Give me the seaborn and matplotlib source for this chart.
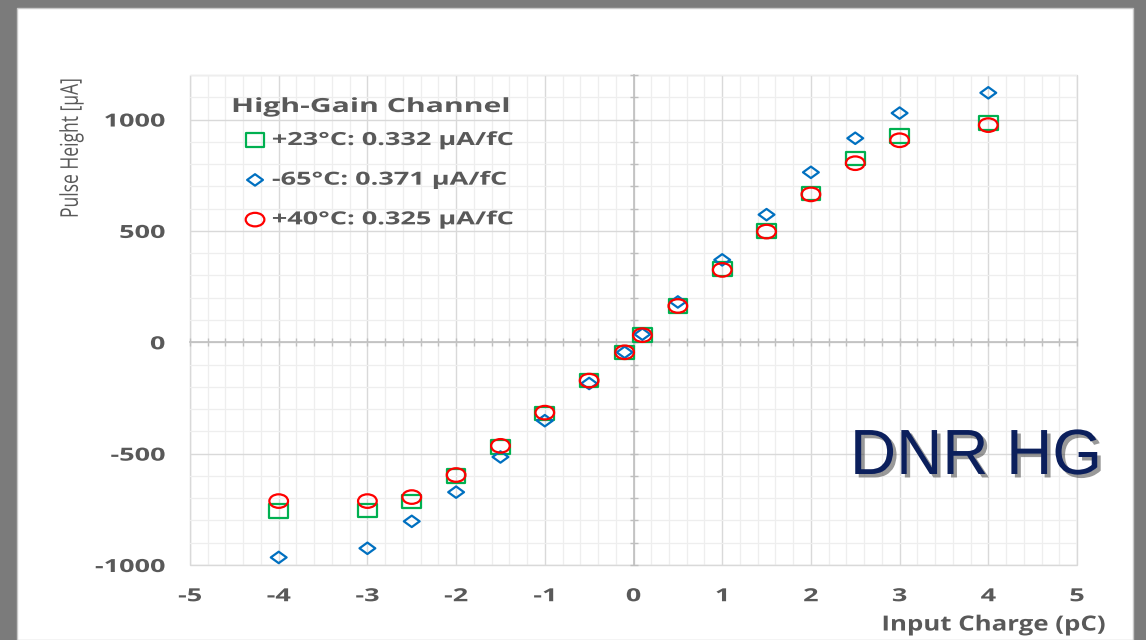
import numpy as np
import pandas as pd
import matplotlib
matplotlib.use('Agg')
import matplotlib.pyplot as plt
import matplotlib.patheffects as pe
from matplotlib.markers import MarkerStyle
from matplotlib.transforms import Affine2D
from matplotlib.patches import Rectangle
from matplotlib.ticker import MultipleLocator, FixedLocator
import seaborn as sns

# ---- data ----
charge = [-4, -3, -2.5, -2, -1.5, -1, -0.5, -0.1, 0.1, 0.5, 1, 1.5, 2, 2.5, 3, 4]
ph_23 = [-758, -755, -715, -600, -470, -320, -172, -45, 32, 163, 330, 500, 668, 826, 925, 984]
ph_m65 = [-966, -925, -804, -673, -515, -352, -185, -45, 36, 181, 370, 573, 763, 916, 1029, 1120]
ph_40 = [-713, -713, -695, -596, -465, -316, -172, -45, 32, 163, 325, 497, 664, 804, 907, 975]

labels = ['+23°C: 0.332 µA/fC', '-65°C: 0.371 µA/fC', '+40°C: 0.325 µA/fC']
colors = ['#00B050', '#0070C0', '#FF0000']
x_ticks = [-5, -4, -3, -2, -1, 0, 1, 2, 3, 4, 5]
y_ticks = [-1000, -500, 0, 500, 1000]

sns.set_theme(style='white')
plt.rcParams['font.family'] = ['Open Sans', 'DejaVu Sans']
plt.rcParams['axes.unicode_minus'] = False
TXT = '#595959'


class HStretch(pe.AbstractPathEffect):
    """widen text horizontally (the slide picture is stretched sideways)"""
    def __init__(self, sx, anchor='center'):
        super().__init__()
        self.sx = sx
        self.anchor = anchor

    def draw_path(self, renderer, gc, tpath, affine, rgbFace=None):
        bb = tpath.get_extents(affine)
        x0 = {'left': bb.x0, 'right': bb.x1}.get(self.anchor, (bb.x0 + bb.x1) / 2)
        tr = affine + Affine2D().translate(-x0, 0).scale(self.sx, 1).translate(x0, 0)
        renderer.draw_path(gc, tpath, tr, rgbFace)


fig = plt.figure(figsize=(11.46, 6.4), dpi=100)
fig.patch.set_facecolor('#7b7b7b')
fig.patches.append(Rectangle((17/1146, 0), (1133-17)/1146, (640-8)/640,
                             transform=fig.transFigure, facecolor='white',
                             edgecolor='#c8c8c8', lw=1, zorder=-10))
ax = fig.add_axes([190/1146, 1-565/640, 887/1146, 490/640])
ax.set_facecolor('white')

# stretched markers
wide = Affine2D().scale(1.38, 1.0)
mk_sq = MarkerStyle('s', transform=wide)
mk_di = MarkerStyle('D', transform=wide)
mk_ci = MarkerStyle('o', transform=wide)

df = pd.DataFrame({'charge': charge * 3,
                   'ph': ph_23 + ph_m65 + ph_40,
                   'series': [labels[0]] * len(charge) + [labels[1]] * len(charge) + [labels[2]] * len(charge)})

handles = []
for lab, col, mk, s in zip(labels, colors, [mk_sq, mk_di, mk_ci], [95, 34, 95]):
    sub = df[df['series'] == lab]
    sns.scatterplot(data=sub, x='charge', y='ph', marker=mk, s=s,
                    facecolor='none', edgecolor=col, linewidth=1.6, ax=ax, zorder=5)
    handles.append(ax.collections[-1])

ax.set_xlim(-5, 5)
ax.set_ylim(-1000, 1200)

# grid
ax.xaxis.set_major_locator(FixedLocator(x_ticks))
ax.yaxis.set_major_locator(MultipleLocator(500))
ax.xaxis.set_minor_locator(MultipleLocator(0.2))
ax.yaxis.set_minor_locator(MultipleLocator(100))
ax.grid(which='major', color='#d9d9d9', lw=1.0)
ax.grid(which='minor', color='#eeeeee', lw=0.9)
ax.set_axisbelow(True)
ax.set_xlabel('')
ax.set_ylabel('')

# axes crossing at zero, ticks without labels
for sp in ['top', 'right']:
    ax.spines[sp].set_visible(False)
ax.spines['left'].set_position(('data', 0))
ax.spines['bottom'].set_position(('data', 0))
for sp in ['left', 'bottom']:
    ax.spines[sp].set_color('#bfbfbf')
    ax.spines[sp].set_linewidth(1.2)
    ax.spines[sp].set_zorder(2)
ax.tick_params(which='both', direction='inout', length=6, width=1, color='#bfbfbf',
               labelleft=False, labelbottom=False, left=True, bottom=True)
ax.patch.set_edgecolor('#d9d9d9')
ax.patch.set_linewidth(1.0)

# tick labels at the outer edges
secx = ax.secondary_xaxis('bottom')
secx.set_xticks(x_ticks)
secx.spines['bottom'].set_visible(False)
secx.tick_params(length=0, pad=16, labelsize=13, labelcolor=TXT)
for t in secx.get_xticklabels():
    t.set_fontweight('bold')
    t.set_path_effects([HStretch(1.5)])
secy = ax.secondary_yaxis('left')
secy.set_yticks(y_ticks)
secy.spines['left'].set_visible(False)
secy.tick_params(length=0, pad=18, labelsize=13, labelcolor=TXT)
for t in secy.get_yticklabels():
    t.set_fontweight('bold')
    t.set_path_effects([HStretch(1.5, 'right')])

fig.text(994/1146, 1-625/640, 'Input Charge (pC)', ha='center', va='center',
         fontsize=15, fontweight='bold', color=TXT, path_effects=[HStretch(1.24)])
fig.text(72/1146, 1-148/640, 'Pulse Height [µA]', ha='center', va='center',
         rotation=90, fontsize=12.6, color=TXT, path_effects=[HStretch(1.4)])

# legend: title as its own text, entries below
fig.text(232/1146, 1-107/640, 'High-Gain Channel', ha='left', va='center',
         fontsize=14, fontweight='bold', color=TXT, path_effects=[HStretch(1.55, 'left')])
leg = ax.legend(handles, labels, loc='upper left',
                bbox_to_anchor=(246/1146, 1-131/640), bbox_transform=fig.transFigure,
                frameon=False, fontsize=13, labelspacing=1.2, handletextpad=0.45,
                handlelength=1.0, borderpad=0, borderaxespad=0)
for t in leg.get_texts():
    t.set_color(TXT)
    t.set_fontweight('bold')
    t.set_path_effects([HStretch(1.5, 'left')])

fig.text(976/1146, 1-457/640, 'DNR HG', ha='center', va='center',
         fontsize=46, color='#0b1f5c', family='Liberation Sans',
         path_effects=[pe.withSimplePatchShadow(offset=(2.5, -2.5), shadow_rgbFace='#555555', alpha=0.6)])

fig.savefig('out.png', dpi=100, facecolor=fig.get_facecolor())
